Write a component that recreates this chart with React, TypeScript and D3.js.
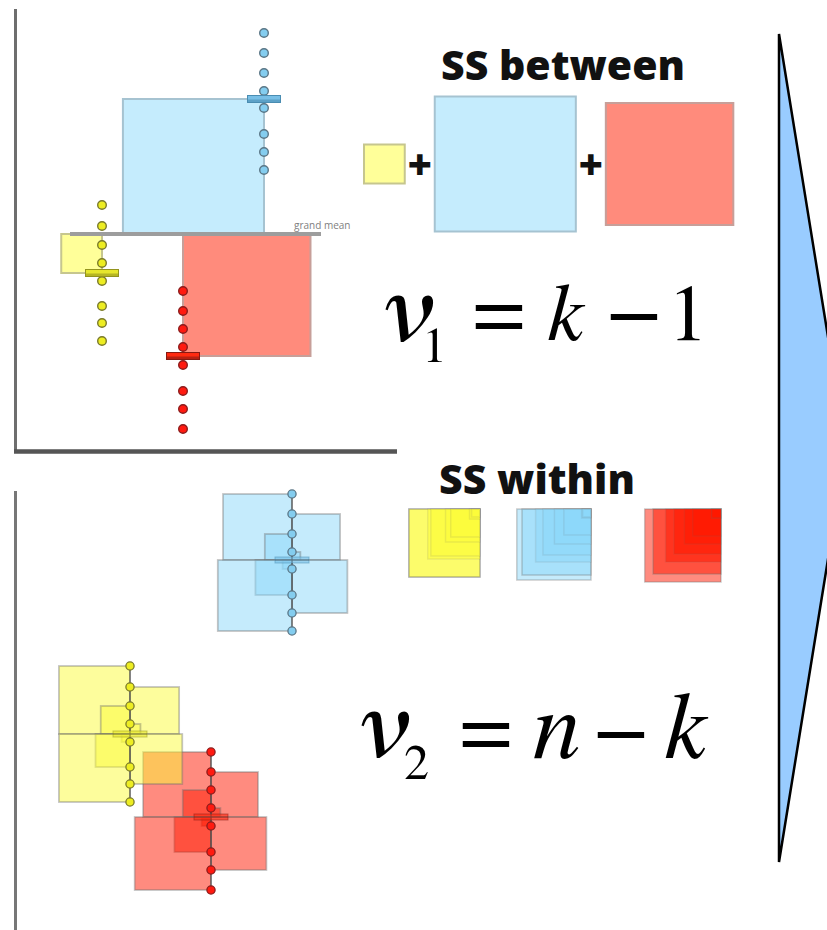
import React from "react";
import * as d3 from "d3";

// ---- data ----
const groups = ["Group 1", "Group 2", "Group 3"]; // left to right: yellow, red, blue
const group1Values = [24.6, 22.5, 20.6, 18.8, 17.0, 14.5, 12.8, 11.0];
const group2Values = [16.0, 14.0, 12.2, 10.4, 8.6, 6.0, 4.2, 2.2];
const group3Values = [41.8, 39.8, 37.8, 36.0, 34.3, 31.7, 29.9, 28.1];
const groupMeans = [17.8, 9.5, 35.2];
const grandMean = 21.7;
const betweenSides = [-1, 1, -1];
const withinSides = [-1, 1, -1, 1, -1, -1, 1, -1];
const ssOrder = ["Group 1", "Group 3", "Group 2"];
const titleBetween = "SS between";
const titleWithin = "SS within";
const grandMeanLabel = "grand mean";

const groupValues: Record<string, number[]> = {
  "Group 1": group1Values,
  "Group 2": group2Values,
  "Group 3": group3Values,
};

// ---- styles ----
const W = 827;
const H = 930;
const ASPECT = 1.045;
const palette: Record<string, any> = {
  "Group 1": { light: "#ffff99", lightStroke: "#c6c68e", sat: "#fbfb39", dot: "#eded22", dotStroke: "#7a7a2a", bar: "#e6e62c", barStroke: "#94941e" },
  "Group 2": { light: "#ff8b7c", lightStroke: "#c79f99", sat: "#ff1700", dot: "#ff1a10", dotStroke: "#8c1c1c", bar: "#ff2a10", barStroke: "#861a12" },
  "Group 3": { light: "#c5ecfd", lightStroke: "#a6c3d1", sat: "#8cd8fa", dot: "#84cdef", dotStroke: "#5a7686", bar: "#78bfe6", barStroke: "#4a8db2" },
};
const serif = "FreeSerif, 'DejaVu Serif', serif";
const sans = "'Open Sans', 'Noto Sans', sans-serif";

export default function App() {
  const y = d3.scaleLinear().domain([0, 44]).range([451, 11]);
  const x = d3.scalePoint<string>().domain(groups).range([102, 264]);
  const gy = y(grandMean);
  const meanOf = (g: string) => groupMeans[groups.indexOf(g)];

  let cursor = 364;
  const rowCY = 164;
  const betweenRow = ssOrder.map((g) => {
    const h = Math.abs(y(meanOf(g)) - gy);
    const w = h * ASPECT;
    const item = { g, x: cursor, y: rowCY - h / 2, w, h };
    cursor += w + 30;
    return item;
  });

  const withinAnchors = [480, 591, 721];
  const withinTop = 509;
  const drawOrder = ["Group 2", "Group 1", "Group 3"];

  return (
    <svg width={W} height={H} style={{ position: "absolute", left: 0, top: 0, background: "#fff", display: "block" }}>
      <polygon points="779,34 846,448 779,862" fill="#99ccff" stroke="#000" strokeWidth={2.5} />

      {/* ---------- top panel ---------- */}
      <line x1={15.5} y1={9} x2={15.5} y2={453} stroke="#6e6e6e" strokeWidth={3} />
      <line x1={14} y1={451.5} x2={397} y2={451.5} stroke="#555" strokeWidth={4.5} />

      {groups.map((g, i) => {
        const cy = y(groupMeans[i]);
        const h = Math.abs(cy - gy);
        const w = h * ASPECT;
        const cx = x(g)!;
        const left = betweenSides[i] < 0 ? cx - w : cx;
        return (
          <rect key={"b" + g} x={left} y={Math.min(cy, gy)} width={w} height={h}
            fill={palette[g].light} stroke={palette[g].lightStroke} strokeWidth={2} />
        );
      })}
      <line x1={x("Group 1")! - 32} y1={gy} x2={x("Group 3")! + 57} y2={gy} stroke="#9d9d9d" strokeWidth={4} />
      <text x={294} y={229} fontSize={10} fontFamily={sans} fill="#808080">{grandMeanLabel}</text>

      {groups.map((g) => (
        <g key={"d" + g}>
          {groupValues[g].map((v, j) => (
            <circle key={j} cx={x(g)!} cy={y(v)} r={4.3} fill={palette[g].dot} stroke={palette[g].dotStroke} strokeWidth={1.4} />
          ))}
        </g>
      ))}
      {groups.map((g, i) => (
        <g key={"m" + g}>
          <rect x={x(g)! - 16.5} y={y(groupMeans[i]) - 3.5} width={33} height={7} fill={palette[g].bar} stroke={palette[g].barStroke} strokeWidth={1} />
          <rect x={x(g)! - 16.5} y={y(groupMeans[i]) + 0.5} width={33} height={3} fill={palette[g].barStroke} opacity={0.6} />
        </g>
      ))}

      {/* SS between */}
      <text x={563} y={80} textAnchor="middle" fontFamily={sans} fontWeight={800} fontSize={41} fill="#111">{titleBetween}</text>
      {betweenRow.map((r) => (
        <rect key={"r" + r.g} x={r.x} y={r.y} width={r.w} height={r.h}
          fill={palette[r.g].light} stroke={palette[r.g].lightStroke} strokeWidth={2} />
      ))}
      {betweenRow.slice(0, -1).map((r, i) => (
        <text key={"p" + i} x={r.x + r.w + 15} y={rowCY + 16} textAnchor="middle" fontFamily={sans} fontWeight={800} fontSize={42} fill="#111">+</text>
      ))}

      {/* formula 1 : ν1 = k − 1 */}
      <text style={{ fontFamily: serif }} fill="#000">
        <tspan x={379} y={342} fontStyle="italic" fontSize={106}>ν</tspan>
        <tspan x={422} y={362} fontSize={50}>1</tspan>
        <tspan x={473} y={340} fontSize={92}>=</tspan>
        <tspan x={547} y={340} fontStyle="italic" fontSize={82}>k</tspan>
        <tspan x={608} y={340} fontSize={92}>−</tspan>
        <tspan x={668} y={340} fontSize={80}>1</tspan>
      </text>

      {/* ---------- bottom panel ---------- */}
      <line x1={15.5} y1={491} x2={15.5} y2={H} stroke="#777" strokeWidth={3} />
      <g transform="translate(28,461)">
        {drawOrder.map((g) => {
          const cx = x(g)!;
          const my = y(meanOf(g));
          return (
            <g key={"w" + g}>
              {groupValues[g].map((v, j) => {
                const vy = y(v);
                const h = Math.abs(vy - my);
                const w = h * ASPECT;
                const left = withinSides[j] < 0 ? cx - w : cx;
                return (
                  <rect key={j} x={left} y={Math.min(vy, my)} width={w} height={h}
                    fill={palette[g].sat} fillOpacity={0.5} stroke="#6f6f6f" strokeOpacity={0.4} strokeWidth={1.8} />
                );
              })}
            </g>
          );
        })}
        {drawOrder.map((g) => {
          const cx = x(g)!;
          const vals = groupValues[g];
          const my = y(meanOf(g));
          return (
            <g key={"l" + g}>
              <line x1={cx} x2={cx} y1={y(d3.max(vals)!)} y2={y(d3.min(vals)!)} stroke="#444" strokeOpacity={0.7} strokeWidth={1.5} />
              <rect x={cx - 17} y={my - 3} width={34} height={6} fill={palette[g].bar} fillOpacity={0.6} stroke={palette[g].barStroke} strokeOpacity={0.5} strokeWidth={1} />
              <line x1={cx - 17} x2={cx + 17} y1={my} y2={my} stroke="#333" strokeOpacity={0.5} strokeWidth={1} />
              {vals.map((v, j) => (
                <circle key={j} cx={cx} cy={y(v)} r={4.1} fill={palette[g].dot} stroke={palette[g].dotStroke} strokeWidth={1.3} />
              ))}
            </g>
          );
        })}
      </g>

      {/* SS within */}
      <text x={537} y={494} textAnchor="middle" fontFamily={sans} fontWeight={800} fontSize={41} fill="#111">{titleWithin}</text>
      {ssOrder.map((g, k) => {
        const my = y(meanOf(g));
        const right = withinAnchors[k];
        const sq = groupValues[g].map((v) => Math.abs(y(v) - my)).sort((a, b) => b - a);
        return (
          <g key={"s" + g}>
            {sq.map((h, j) => {
              const w = h * ASPECT;
              return (
                <rect key={j} x={right - w} y={withinTop} width={w} height={h}
                  fill={palette[g].sat} fillOpacity={0.5} stroke="#6f6f6f" strokeOpacity={j < 2 ? 0.35 : 0.12} strokeWidth={1.5} />
              );
            })}
          </g>
        );
      })}

      {/* formula 2 : ν2 = n − k */}
      <text style={{ fontFamily: serif }} fill="#000">
        <tspan x={355} y={758} fontStyle="italic" fontSize={106}>ν</tspan>
        <tspan x={404} y={779} fontSize={50}>2</tspan>
        <tspan x={460} y={758} fontSize={92}>=</tspan>
        <tspan x={533} y={758} fontStyle="italic" fontSize={96}>n</tspan>
        <tspan x={595} y={758} fontSize={92}>−</tspan>
        <tspan x={664} y={758} fontStyle="italic" fontSize={95}>k</tspan>
      </text>
    </svg>
  );
}
